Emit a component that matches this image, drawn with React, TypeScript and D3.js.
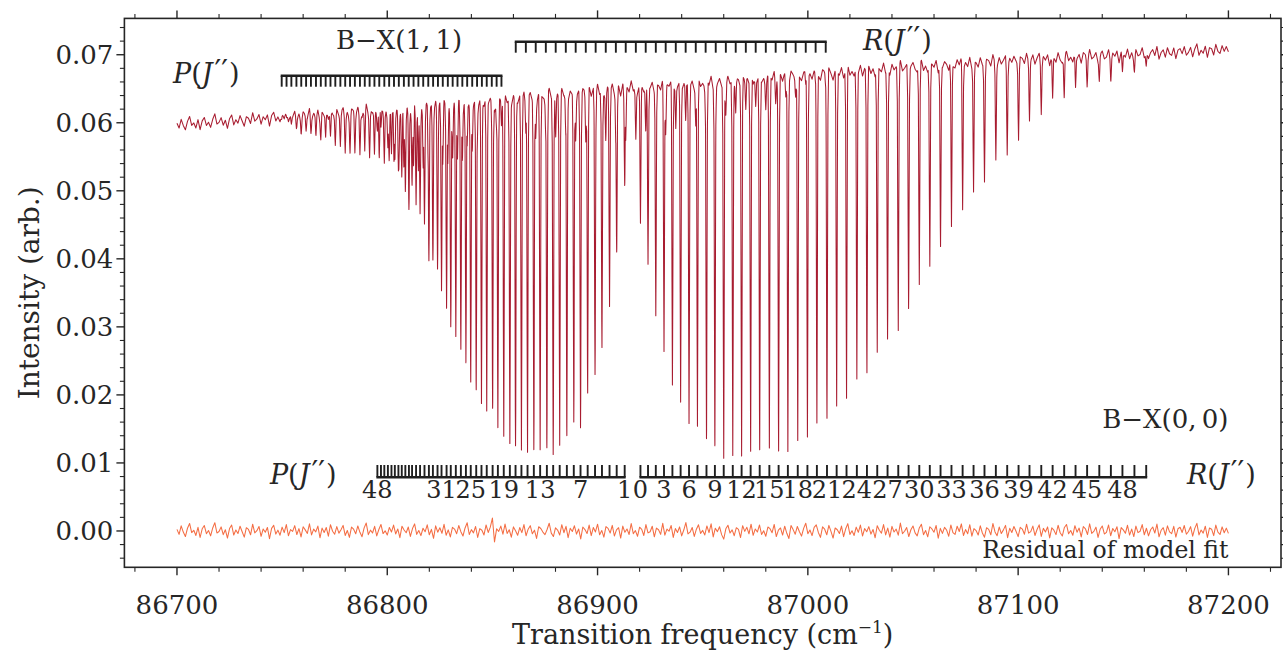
import React from "react";
import * as d3 from "d3";

// ---------------- data ----------------
const xTickValues = [86700, 86800, 86900, 87000, 87100, 87200];
const yTickValues = [0.0, 0.01, 0.02, 0.03, 0.04, 0.05, 0.06, 0.07];

// continuum level of the measured spectrum (cm^-1, intensity)
const baselineNu = [86700, 86755.2, 86802.7, 86850.3, 86878.8, 86907.3, 86954.9, 87002.4, 87043.8, 87091.3, 87138.9, 87186.4, 87200];
const baselineI = [0.0597, 0.0609, 0.0619, 0.0631, 0.0640, 0.0649, 0.0658, 0.0671, 0.0680, 0.0690, 0.0698, 0.0705, 0.0708];

// B-X(0,0) P branch, J'' = 1..48 : line centre and intensity at line minimum
const p00Nu = [86912.9, 86909.1, 86905.7, 86902.1, 86898.8, 86895.3, 86891.9, 86888.7, 86885.4, 86882.0,
  86878.9, 86875.9, 86872.7, 86869.7, 86866.7, 86863.8, 86861.0, 86858.3, 86855.4, 86852.6,
  86850.1, 86847.3, 86844.8, 86842.3, 86839.7, 86837.4, 86835.0, 86832.6, 86830.2, 86828.2,
  86825.8, 86823.9, 86821.7, 86819.8, 86817.7, 86815.6, 86813.7, 86811.8, 86810.3, 86808.6,
  86806.9, 86805.3, 86803.6, 86802.0, 86800.3, 86798.6, 86797.0, 86795.3];
const p00Min = [0.0509, 0.0408, 0.0331, 0.0270, 0.0230, 0.0203, 0.0162, 0.0155, 0.0140, 0.0132,
  0.0120, 0.0121, 0.0115, 0.0120, 0.0116, 0.0120, 0.0125, 0.0130, 0.0138, 0.0151,
  0.0165, 0.0171, 0.0186, 0.0206, 0.0219, 0.0240, 0.0268, 0.0287, 0.0306, 0.0332,
  0.0355, 0.0386, 0.0405, 0.0400, 0.0451, 0.0470, 0.0480, 0.0507, 0.0471, 0.0500,
  0.0515, 0.0530, 0.0545, 0.0556, 0.0566, 0.0576, 0.0584, 0.0592];

// B-X(0,0) R branch, J'' = 0..50
const r00Nu = [86920.4, 86924.0, 86927.7, 86931.6, 86935.6, 86939.5, 86943.5, 86947.5, 86951.8, 86955.8,
  86960.0, 86964.3, 86968.5, 86972.8, 86977.1, 86981.7, 86986.1, 86990.5, 86995.2, 86999.8,
  87004.3, 87009.1, 87013.7, 87018.4, 87023.3, 87028.1, 87033.0, 87037.9, 87043.0, 87047.9,
  87053.0, 87058.0, 87063.1, 87068.3, 87073.6, 87078.8, 87084.0, 87089.4, 87094.8, 87100.2,
  87105.4, 87111.0, 87116.4, 87121.9, 87127.3, 87132.8, 87138.6, 87144.1, 87149.6, 87155.3, 87160.9];
const r00Min = [0.0448, 0.0395, 0.0316, 0.0263, 0.0217, 0.0190, 0.0161, 0.0148, 0.0131, 0.0124,
  0.0119, 0.0112, 0.0111, 0.0110, 0.0112, 0.0118, 0.0116, 0.0124, 0.0128, 0.0139,
  0.0153, 0.0170, 0.0181, 0.0189, 0.0220, 0.0233, 0.0255, 0.0279, 0.0301, 0.0334,
  0.0358, 0.0383, 0.0415, 0.0442, 0.0472, 0.0497, 0.0522, 0.0549, 0.0559, 0.0580,
  0.0605, 0.0620, 0.0633, 0.0633, 0.0647, 0.0656, 0.0663, 0.0667, 0.0672, 0.0678, 0.0680];

// B-X(1,1) P branch comb / lines
const p11Nu = [86749.8, 86752.1, 86754.4, 86756.8, 86759.1, 86761.4, 86763.7, 86766.1, 86768.4, 86770.7,
  86773.0, 86775.3, 86777.7, 86780.0, 86782.3, 86784.6, 86787.0, 86789.3, 86791.6, 86793.9,
  86796.2, 86798.6, 86800.9, 86803.2, 86805.5, 86807.9, 86810.2, 86812.5, 86814.8, 86817.1,
  86819.5, 86821.8, 86824.1, 86826.4, 86828.8, 86831.1, 86833.4, 86835.7, 86838.0, 86840.4,
  86842.7, 86845.0, 86847.3, 86849.7, 86852.0, 86854.3];
const p11Min = [0.0602, 0.0600, 0.0597, 0.0594, 0.0591, 0.0588, 0.0585, 0.0582, 0.0579, 0.0576,
  0.0571, 0.0568, 0.0565, 0.0562, 0.0560, 0.0557, 0.0555, 0.0552, 0.0550, 0.0548,
  0.0545, 0.0542, 0.0540, 0.0537, 0.0535, 0.0533, 0.0531, 0.0530, 0.0530, 0.0530,
  0.0531, 0.0533, 0.0535, 0.0537, 0.0540, 0.0543, 0.0546, 0.0550, 0.0554, 0.0558,
  0.0563, 0.0568, 0.0573, 0.0579, 0.0585, 0.0592];

// B-X(1,1) R branch comb / lines
const r11Nu = [86861.1, 86865.9, 86870.6, 86875.4, 86880.1, 86884.9, 86889.6, 86894.4, 86899.1, 86903.9,
  86908.7, 86913.4, 86918.2, 86922.9, 86927.7, 86932.4, 86937.2, 86941.9, 86946.7, 86951.4,
  86956.2, 86961.0, 86965.7, 86970.5, 86975.2, 86980.0, 86984.7, 86989.5, 86994.2, 86999.0,
  87003.7, 87008.5];
const r11Min = [0.0600, 0.0590, 0.0583, 0.0578, 0.0575, 0.0576, 0.0573, 0.0572, 0.0570, 0.0569,
  0.0571, 0.0574, 0.0577, 0.0580, 0.0582, 0.0585, 0.0589, 0.0592, 0.0596, 0.0600,
  0.0604, 0.0608, 0.0613, 0.0617, 0.0622, 0.0627, 0.0631, 0.0636, 0.0640, 0.0645,
  0.0649, 0.0653];

const p00LabelJ = [48, 31, 25, 19, 13, 7, 1];
const r00LabelJ = [0, 3, 6, 9, 12, 15, 18, 21, 24, 27, 30, 33, 36, 39, 42, 45, 48];

// residual of model fit, 86700..87200 cm^-1 (1 cm^-1 steps), in units of RES_UNIT
const RES_UNIT = 2e-5;
const residual = [
  12, -25, 38, -8, -41, 20, 55, -12, 5, -33, 27, -48, 16, 40, -20, 3, -36, 22, 61, -15, -4, 30, -27, 9, -52,
  18, 44, -30, 7, -19, 35, -6, -45, 24, 11, -28, 50, -14, 2, 33, -39, 15, -9, 26, -57, 19, 42, -23, 6, -31,
  28, -12, 47, -35, 10, -3, 39, -26, 17, -44, 31, 8, -18, 53, -29, 14, -7, 36, -50, 21, -11, 25, -38, 46, -2,
  -24, 32, -16, 9, 41, -33, 4, -47, 29, 13, -21, 37, -10, -42, 23, 58, -27, 6, -15, 34, -36, 11, 48, -19, 1,
  -30, 26, -8, 43, -22, 15, -49, 35, 7, -13, 29, -40, 18, 52, -25, 3, -34, 20, -6, 45, -28, 12, -54, 38, -9,
  24, -17, 49, -31, 8, -44, 27, 14, -20, 40, -5, -37, 22, 60, -26, 10, -14, 33, -48, 17, 5, -29, 44, -11, 28,
  95, -80, 16, -3, 36, -24, 51, -18, 9, -46, 30, 2, -32, 25, -12, 47, -35, 13, 39, -21, 6, -55, 31, 18, -8,
  -27, 11, 57, -16, -41, 23, 7, -30, 46, -13, 34, -49, 20, -4, 38, -23, 15, -58, 29, 10, -19, 43, -34, 26, -7,
  50, -28, 4, -45, 32, 19, -15, 41, -37, 8, 24, -52, 36, -10, 15, -26, 55, -20, 3, -39, 28, 12, -33, 47, -14,
  -6, 35, -43, 21, 9, -25, 56, -31, 14, -2, 40, -47, 18, -11, 30, -36, 7, 62, -22, -9, 26, -40, 13, 45, -18,
  4, -29, 37, -12, 53, -44, 20, -5, 31, -27, -60, 16, 42, -15, 8, -35, 24, 11, -48, 39, -3, 27, -21, 50, -32,
  15, -8, 44, -26, 2, -39, 29, 17, -13, 48, -41, 6, 22, -30, 35, -17, -55, 40, 10, -24, 33, -6, -38, 19, 57,
  -20, 7, -34, 26, 45, -11, -47, 30, 13, -28, 41, -3, -52, 22, 9, -19, 36, -42, 16, 54, -25, 2, -33, 28, -10,
  43, -37, 18, -6, 32, -23, 11, -50, 39, 5, -16, 47, -29, 21, -45, 34, -8, 14, -31, 58, -20, -2, 25, -41, 9,
  37, -14, -36, 22, 49, -27, 4, -43, 31, 15, -9, 40, -53, 19, -18, 27, 6, -39, 44, -12, -25, 35, -4, 52, -33,
  10, -21, 46, -38, 17, 3, -30, 38, -15, -46, 24, 12, -28, 55, -7, -35, 29, -19, 8, 41, -49, 20, -11, 33, -2,
  -42, 27, 14, -24, 50, -16, -5, 36, -33, 11, 45, -40, 19, -8, 30, -51, 23, 6, -27, 42, -13, -37, 26, 48, -21,
  3, -32, 39, -9, 21, -44, 33, 16, -26, 53, -18, -3, 28, -47, 12, 37, -22, -10, 44, -35, 18, -6, 31, -56, 25,
  8, -17, 42, -30, 14, -41, 36, -12, -2, 47, -28, 20, -36, 9, 29, -15, 51, -43, 5, 24, -31, 38, -7, -20, 34,
  -45, 16, 27, -11, 40, -24, -4, 32, -38, 19, 56, -29, 7, -16, 35, -48, 22, 13, -34, 43, -9, -26, 30, -13, 21,
  -18,
];

// ---------------- chart ----------------
const W = 1283;
const H = 652;
const FONT = "'DejaVu Serif', 'Liberation Serif', serif";
const INK = "#262626";

function Comb({ px, yBar, yTip }: { px: number[]; yBar: number; yTip: number }) {
  const x0 = d3.min(px) as number;
  const x1 = d3.max(px) as number;
  return (
    <g stroke="#1f1f1f" fill="none">
      <line x1={x0 - 1} x2={x1 + 1} y1={yBar} y2={yBar} strokeWidth={2.6} />
      {px.map((p, i) => (
        <line key={i} x1={p} x2={p} y1={yBar} y2={yTip} strokeWidth={1.9} />
      ))}
    </g>
  );
}

function BranchLabel({ letter, x, y, size }: { letter: string; x: number; y: number; size: number }) {
  return (
    <text x={x} y={y} fontSize={size} fill={INK}>
      <tspan fontStyle="italic">{letter}</tspan>(<tspan fontStyle="italic">J</tspan>
      <tspan dx={2} dy={-2} fontSize={size * 1.1}>′′</tspan>
      <tspan dx={1} dy={2}>)</tspan>
    </text>
  );
}

export default function App() {
  const L = 124.4, R = 1281, T = 18.4, B = 567.3;
  const x = d3.scaleLinear().domain([86675, 87225]).range([L, R]);
  const y = d3.scaleLinear().domain([-0.00534, 0.07534]).range([B, T]);

  const base = d3.scaleLinear().domain(baselineNu).range(baselineI).clamp(true);
  const resNu = residual.map((_, i) => 86700 + (i * 500) / (residual.length - 1));
  const resVal = residual.map((v) => v * RES_UNIT);
  const noise = d3.scaleLinear().domain(resNu).range(resVal).clamp(true);

  const lines: { c: number; d: number }[] = [];
  const add = (nus: number[], mins: number[]) =>
    nus.forEach((c, i) => lines.push({ c, d: Math.max(0, base(c) - mins[i]) }));
  add(p00Nu, p00Min);
  add(r00Nu, r00Min);
  add(p11Nu, p11Min);
  add(r11Nu, r11Min);

  const sigma = 0.22;
  const offs = [-0.8, -0.45, -0.2, 0, 0.2, 0.45, 0.8];
  const xs: number[] = resNu.slice();
  lines.forEach((l) => offs.forEach((o) => xs.push(l.c + o)));
  xs.sort((a, b) => a - b);
  const pts: [number, number][] = xs
    .filter((v) => v >= 86700 && v <= 87200)
    .map((v) => {
      let dip = 0;
      for (const l of lines) {
        const z = (v - l.c) / sigma;
        if (z > -6 && z < 6) {
          const g = l.d * Math.exp(-0.5 * z * z);
          if (g > dip) dip = g;
        }
      }
      return [v, base(v) - dip + noise(v)];
    });

  const lineGen = d3
    .line<[number, number]>()
    .x((d) => x(d[0]))
    .y((d) => y(d[1]));
  const specPath = lineGen(pts) || "";
  const resPath = lineGen(resNu.map((v, i) => [v, resVal[i]] as [number, number])) || "";

  const xMinor = d3.range(86680, 87225, 20).filter((v) => v % 100 !== 0);
  const yMinor = d3
    .range(-4, 76, 2)
    .filter((v) => v % 10 !== 0)
    .map((v) => v / 1000);

  const MAJ = 8, MIN = 4.5;

  const p00Label = p00LabelJ.map((j) => ({ j, nu: p00Nu[j - 1] }));
  const r00Label = r00LabelJ.map((j) => ({ j, nu: r00Nu[j] }));

  return (
    <svg
      width={W}
      height={H}
      viewBox={`0 0 ${W} ${H}`}
      style={{ position: "absolute", left: 0, top: 0, display: "block" }}
      fontFamily={FONT}
    >
      <rect width={W} height={H} fill="#ffffff" />

      {/* spectrum and residual */}
      <path d={specPath} fill="none" stroke="#a81c30" strokeWidth={1.05} strokeLinejoin="round" />
      <path d={resPath} fill="none" stroke="#f46d43" strokeWidth={1.05} strokeLinejoin="round" />

      {/* assignment combs */}
      <Comb px={p11Nu.map(x)} yBar={y(0.0669)} yTip={y(0.0653)} />
      <Comb px={r11Nu.map(x)} yBar={y(0.0719)} yTip={y(0.0703)} />
      <Comb px={p00Nu.map(x)} yBar={y(0.0079)} yTip={y(0.0097)} />
      <Comb px={r00Nu.map(x)} yBar={y(0.0079)} yTip={y(0.0097)} />

      {/* comb labels */}
      <g fontSize={24} fill={INK} textAnchor="middle">
        {p00Label.map((d) => (
          <text key={"p" + d.j} x={x(d.nu)} y={y(0.00485)}>
            {d.j}
          </text>
        ))}
        {r00Label.map((d) => (
          <text key={"r" + d.j} x={x(d.nu)} y={y(0.00485)}>
            {d.j}
          </text>
        ))}
      </g>

      {/* annotations */}
      <BranchLabel letter="P" x={x(86698.1)} y={y(0.0659)} size={27} />
      <text x={x(86775.6)} y={y(0.0709)} fontSize={26} fill={INK}>
        B−X(1,{"\u2009"}1)
      </text>
      <BranchLabel letter="R" x={x(87026.2)} y={y(0.0707)} size={27} />
      <text x={x(87200)} y={y(0.0152)} fontSize={26} fill={INK} textAnchor="end">
        B−X(0,{"\u2009"}0)
      </text>
      <BranchLabel letter="P" x={x(86744.2)} y={y(0.0069)} size={27} />
      <BranchLabel letter="R" x={x(87180.3)} y={y(0.0069)} size={27} />
      <text x={x(87200)} y={y(-0.004)} fontSize={23.5} fill={INK} textAnchor="end">
        Residual of model fit
      </text>

      {/* frame */}
      <rect x={L} y={T} width={R - L} height={B - T} fill="none" stroke={INK} strokeWidth={1.6} />

      {/* ticks */}
      <g stroke={INK} strokeWidth={1.4}>
        {xTickValues.map((v) => (
          <g key={"xt" + v}>
            <line x1={x(v)} x2={x(v)} y1={B} y2={B + MAJ} />
            <line x1={x(v)} x2={x(v)} y1={T} y2={T - MAJ} />
          </g>
        ))}
        {xMinor.map((v) => (
          <g key={"xm" + v}>
            <line x1={x(v)} x2={x(v)} y1={B} y2={B + MIN} strokeWidth={1.1} />
            <line x1={x(v)} x2={x(v)} y1={T} y2={T - MIN} strokeWidth={1.1} />
          </g>
        ))}
        {yTickValues.map((v) => (
          <g key={"yt" + v}>
            <line x1={L} x2={L - MAJ} y1={y(v)} y2={y(v)} />
            <line x1={R} x2={R + MAJ} y1={y(v)} y2={y(v)} />
          </g>
        ))}
        {yMinor.map((v) => (
          <g key={"ym" + v}>
            <line x1={L} x2={L - MIN} y1={y(v)} y2={y(v)} strokeWidth={1.1} />
            <line x1={R} x2={R + MIN} y1={y(v)} y2={y(v)} strokeWidth={1.1} />
          </g>
        ))}
      </g>

      {/* tick labels */}
      <g fontSize={26} fill={INK}>
        {xTickValues.map((v) => (
          <text key={"xl" + v} x={x(v)} y={B + 47} textAnchor="middle">
            {v}
          </text>
        ))}
        {yTickValues.map((v) => (
          <text key={"yl" + v} x={L - 11} y={y(v)} dy="0.36em" textAnchor="end">
            {d3.format(".2f")(v)}
          </text>
        ))}
      </g>

      {/* axis titles */}
      <text
        transform={`translate(${29},${(T + B) / 2}) rotate(-90)`}
        textAnchor="middle"
        dy="0.36em"
        fontSize={28}
        fill={INK}
      >
        Intensity (arb.)
      </text>
      <text x={(L + R) / 2} y={644} textAnchor="middle" fontSize={27} fill={INK}>
        Transition frequency (cm
        <tspan dy={-11} fontSize={17}>
          −1
        </tspan>
        <tspan dy={11}>)</tspan>
      </text>
    </svg>
  );
}
